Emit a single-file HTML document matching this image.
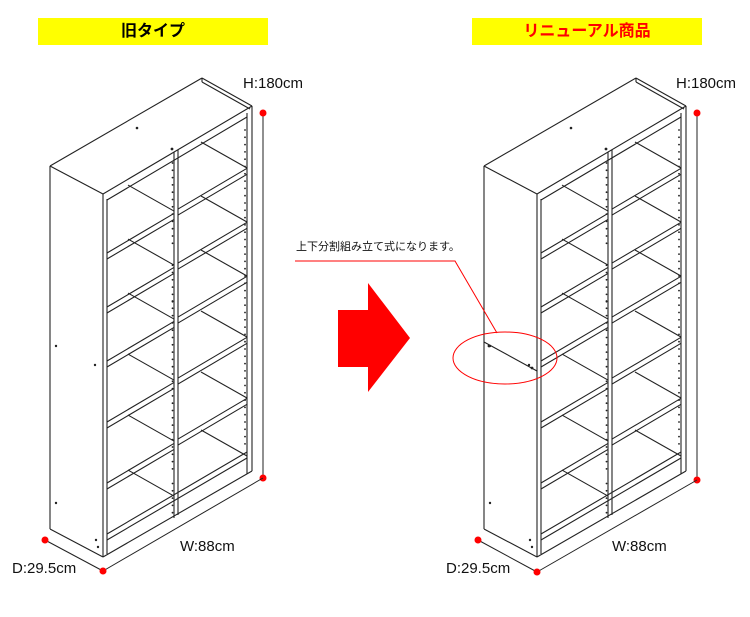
<!DOCTYPE html>
<html><head><meta charset="utf-8">
<style>
html,body{margin:0;padding:0;background:#fff;}
body{width:750px;height:617px;overflow:hidden;position:relative;font-family:"Liberation Sans","Noto Sans CJK JP",sans-serif;}
.bar{position:absolute;top:18px;height:27px;width:230px;background:#ffff00;text-align:center;font-weight:bold;font-size:16px;line-height:27px;}
.lbl{position:absolute;font-size:15px;color:#111;white-space:nowrap;}
</style></head><body>
<div class="bar" style="left:38px;color:#000">旧タイプ</div>
<div class="bar" style="left:472px;color:#ff0000">リニューアル商品</div>
<svg id="s" width="750" height="617" style="position:absolute;left:0;top:0" xmlns="http://www.w3.org/2000/svg"></svg>
<div class="lbl" style="left:243px;top:75px">H:180cm</div>
<div class="lbl" style="left:676px;top:75px">H:180cm</div>
<div class="lbl" style="left:180px;top:538px">W:88cm</div>
<div class="lbl" style="left:612px;top:538px">W:88cm</div>
<div class="lbl" style="left:12px;top:560px">D:29.5cm</div>
<div class="lbl" style="left:446px;top:560px">D:29.5cm</div>
<div class="lbl" style="left:296px;top:238px;font-size:11px">上下分割組み立て式になります。</div>
<script>
var o='';
function L(a,b,c,d,col,w){o+='<line x1="'+a+'" y1="'+b+'" x2="'+c+'" y2="'+d+'" stroke="'+(col||'#222')+'" stroke-width="'+(w||1.1)+'"/>';}
function D(x,y,r,c){o+='<circle cx="'+x+'" cy="'+y+'" r="'+(r||1.2)+'" fill="'+(c||'#222')+'"/>';}
var k=-88/149;
function shelf(ox,split){
 var X=function(x){return x+ox;};
 // top
 L(X(50),166,X(202),78);L(X(202),78,X(252),106);L(X(50),166,X(103),194);L(X(103),194,X(252),106);
 L(X(107),200,X(247),117);L(X(202),78,X(202),82);L(X(202),82,X(250),109);
 // sides
 L(X(50),166,X(50),529);L(X(50),529,X(103),557);
 L(X(103),194,X(103),557);L(X(107),199,X(107),554);
 L(X(252),106,X(252),471);L(X(247),113,X(247),474);
 L(X(103),557,X(252),471);
 // divider
 L(X(174),152,X(174),518);L(X(178),150,X(178),515);
 // bottom board
 L(X(107),534,X(247),452);L(X(107),540,X(247),458);
 var ys=[255,309,363,424,485];
 ys.forEach(function(y0){
  var yd=y0+k*71, yr=y0+k*149;
  L(X(107),y0-2,X(174),y0-2+k*67);L(X(107),y0+4,X(174),y0+4+k*67);
  L(X(178),yd-4,X(247),yd-4+k*69);L(X(178),yd+2,X(247),yd+2+k*69);
  L(X(174),yd-2,X(128),yd-28);L(X(247),yr+1,X(201),yr-25);
 });
 // bottom cell back lines
 L(X(174),538+k*71,X(128),538+k*71-26);L(X(247),456,X(201),430);
 // holes
 for(var y=155;y<520;y+=7.3){ if((y>238&&y<250)||(y>470&&y<482))continue; D(X(172.5),y+ (y<300?8:0),0.9);}
 for(var y=130;y<450;y+=7.3){D(X(245),y,0.9);}
 D(X(137),128,1.3);D(X(172),149,1.4);D(X(56),503,1.2);D(X(56),346,1.2);D(X(96),540,1.2);D(X(98),547,1.2);D(X(95),365,1.2);
 if(split){L(X(50),342,X(103),371);D(X(55),346,1.4);D(X(98),368,1.4);}
}
shelf(0,false);shelf(434,true);
// dimension lines
L(263,110,263,478,'#222',1);D(263,113,3.5,'#f00');D(263,478,3.5,'#f00');
L(103,571,263,478,'#222',1);L(45,540,103,571,'#222',1);D(45,540,3.5,'#f00');D(103,571,3.5,'#f00');
L(697,110,697,480,'#222',1);D(697,113,3.5,'#f00');D(697,480,3.5,'#f00');
L(537,572,697,480,'#222',1);L(478,540,537,572,'#222',1);D(478,540,3.5,'#f00');D(537,572,3.5,'#f00');
// callout
o+='<polyline points="295,261 455,261 497,333" fill="none" stroke="#f00" stroke-width="1"/>';
o+='<ellipse cx="505" cy="358" rx="52" ry="26" fill="none" stroke="#f00" stroke-width="1"/>';
// arrow
o+='<polygon points="338,310 368,310 368,283 410,338 368,392 368,367 338,367" fill="#ff0000"/>';
document.getElementById('s').innerHTML=o;
</script>
</body></html>
